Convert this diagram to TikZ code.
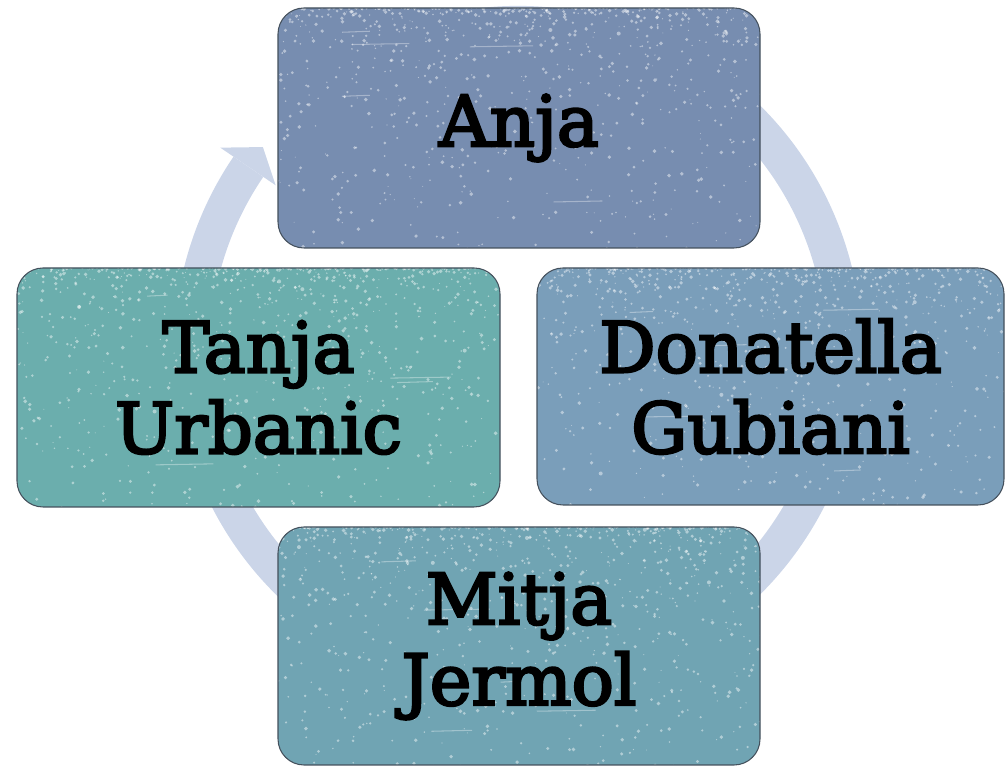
\documentclass[tikz,border=0pt]{standalone}
\usepackage{fontspec}
\setmainfont{DejaVu Serif}
\newfontfamily\boxfont{DejaVu Serif}[FakeBold=3.5]
\usetikzlibrary{calc}

\definecolor{ringblue}{HTML}{CBD5E8}
\definecolor{boxline}{HTML}{44505C}
\definecolor{anjablue}{HTML}{778DB0}
\definecolor{donablue}{HTML}{7A9EBA}
\definecolor{tanjateal}{HTML}{6BAEAD}
\definecolor{mitjateal}{HTML}{70A4B3}

\tikzset{
  cyclebox/.style={draw=boxline, line width=0.6pt, rounded corners=0.52cm,
    minimum width=9.64cm, minimum height=4.8cm, inner sep=0pt,
    align=center, font=\boxfont\fontsize{40}{46}\selectfont},
  speckle/.style={path picture={
    \pgfmathsetseed{#1}
    \foreach \k in {1,...,900} {
      \pgfmathsetmacro\sx{rnd}
      \pgfmathsetmacro\sy{rnd^2.6}
      \pgfmathsetmacro\sr{0.01+0.03*rnd}
      \fill[white, opacity=.45]
        ($(path picture bounding box.north west)+(\sx*9.8,-\sy*4.9)$)
        circle[radius=\sr cm];
    }
    \foreach \k in {1,...,5} {
      \pgfmathsetmacro\sx{rnd*8}
      \pgfmathsetmacro\sy{0.3+rnd*4.2}
      \pgfmathsetmacro\sl{0.4+rnd*1.0}
      \draw[white, opacity=.35, line width=0.6pt]
        ($(path picture bounding box.north west)+(\sx,-\sy)$) -- ++(\sl,0.02);
    }}}
}

\begin{document}
\begin{tikzpicture}
  \useasboundingbox (0,0) rectangle (20.1,15.34);

  % circular arrow behind the boxes
  \coordinate (ctr) at (10.36,8.34);
  \begin{scope}[shift={(ctr)}]
    \fill[ringblue] (110:6.88) arc[start angle=110, end angle=-214.2, radius=6.88]
      -- (145.8:6.16) arc[start angle=-214.2, end angle=110, radius=6.16] -- cycle;
    \fill[ringblue] (145.8:7.2) -- (141.5:6.52) -- (145.8:5.86) -- cycle;
  \end{scope}

  % the four boxes
  \node[cyclebox, fill=anjablue, speckle=11] (anja) at (10.38,12.78) {Anja};
  \node[cyclebox, fill=tanjateal, speckle=23, minimum width=9.66cm, minimum height=4.78cm]
    (tanja) at (5.17,7.59) {Tanja\\Urbanic};
  \node[cyclebox, fill=donablue, speckle=37, minimum width=9.34cm, minimum height=4.74cm]
    (donatella) at (15.41,7.61) {Donatella\\Gubiani};
  \node[cyclebox, fill=mitjateal, speckle=41, minimum height=4.76cm]
    (mitja) at (10.38,2.42) {Mitja\\Jermol};
\end{tikzpicture}
\end{document}
